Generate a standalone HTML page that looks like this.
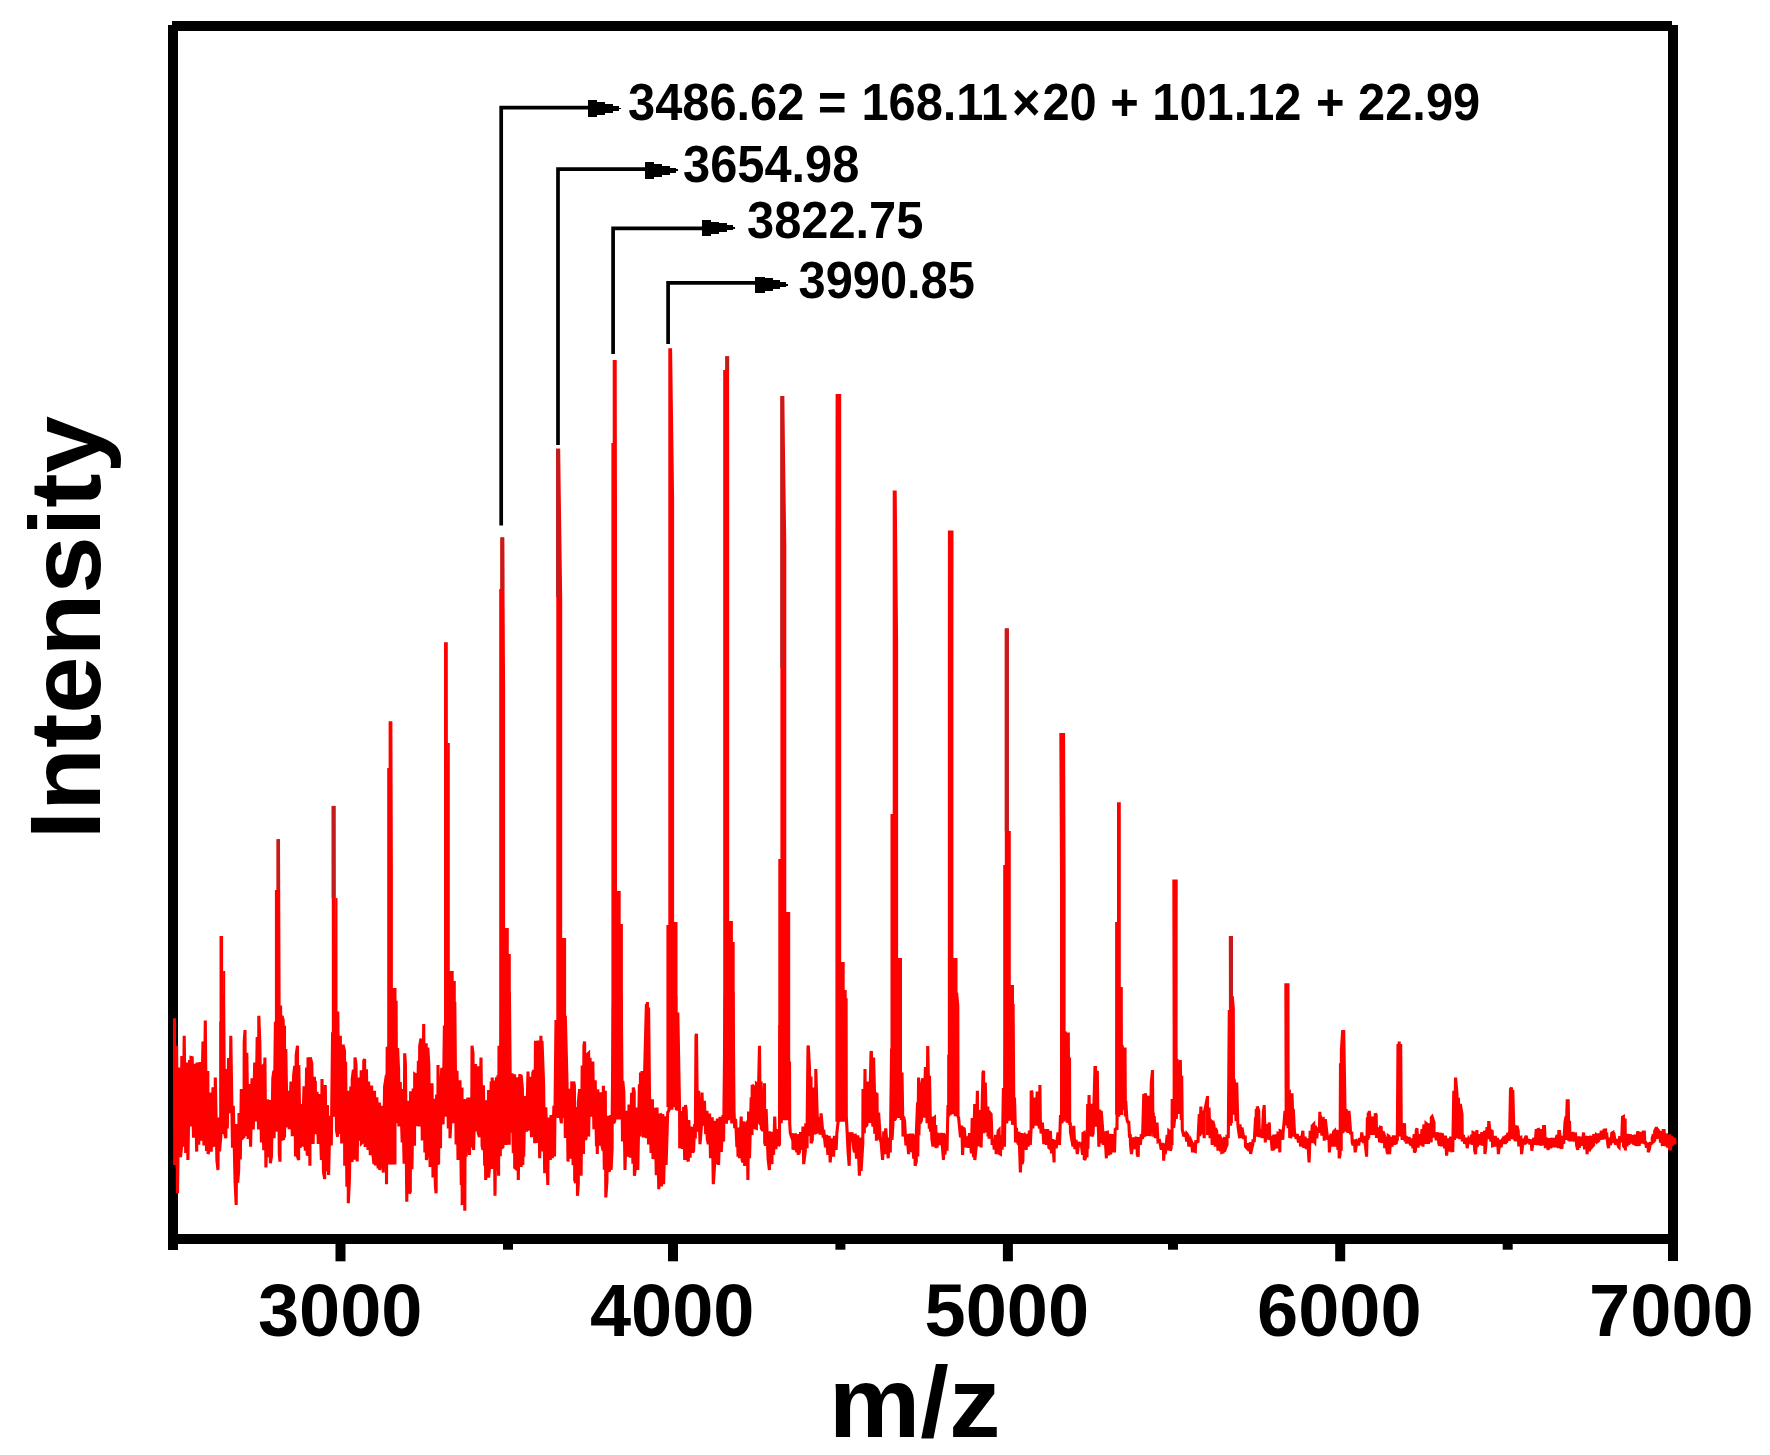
<!DOCTYPE html>
<html lang="en"><head><meta charset="utf-8"><title>Mass spectrum</title>
<style>html,body{margin:0;padding:0;background:#fff;}svg{display:block;}</style></head>
<body>
<svg width="1770" height="1455" viewBox="0 0 1770 1455">
<rect x="0" y="0" width="1770" height="1455" fill="#fff"/>
<g fill="#000" shape-rendering="crispEdges">
<rect x="172" y="21" width="1500" height="10"/>
<rect x="168" y="25" width="10" height="1225"/>
<rect x="1668" y="25" width="10" height="1236"/>
<rect x="168" y="1234" width="1510" height="10"/>
</g><g fill="#000">
<rect x="335.5" y="1240" width="10" height="21.3"/>
<rect x="503.0" y="1240" width="10" height="9.7"/>
<rect x="668.0" y="1240" width="10" height="21.3"/>
<rect x="835.4" y="1240" width="10" height="9.7"/>
<rect x="1002.9" y="1240" width="10" height="21.3"/>
<rect x="1168.0" y="1240" width="10" height="9.7"/>
<rect x="1335.2" y="1240" width="10" height="21.3"/>
<rect x="1502.7" y="1240" width="10" height="9.7"/>
</g>
<g fill="none" stroke="#000" stroke-width="3.7" stroke-linejoin="miter">
<path d="M501.2 525.5 V107.7 H595.9"/>
<path d="M558.0 445.0 V169.2 H652.6"/>
<path d="M613.1 354.0 V228.4 H709.6"/>
<path d="M668.1 344.0 V282.9 H763.1"/>
</g>
<g fill="#000" shape-rendering="crispEdges">
<rect x="587.9" y="100.3" width="9.5" height="16.6"/>
<rect x="597.4" y="102.1" width="8.0" height="12.8"/>
<rect x="605.4" y="104.0" width="7.5" height="9.0"/>
<rect x="612.9" y="106.0" width="6.0" height="5.0"/>
<rect x="618.9" y="107.7" width="2.0" height="1.7"/>
<rect x="644.6" y="161.9" width="9.5" height="16.6"/>
<rect x="654.1" y="163.7" width="8.0" height="12.8"/>
<rect x="662.1" y="165.6" width="7.5" height="9.0"/>
<rect x="669.6" y="167.6" width="6.0" height="5.0"/>
<rect x="675.6" y="169.3" width="2.0" height="1.7"/>
<rect x="701.6" y="219.7" width="9.5" height="16.6"/>
<rect x="711.1" y="221.5" width="8.0" height="12.8"/>
<rect x="719.1" y="223.4" width="7.5" height="9.0"/>
<rect x="726.6" y="225.4" width="6.0" height="5.0"/>
<rect x="732.6" y="227.1" width="2.0" height="1.7"/>
<rect x="755.1" y="276.6" width="9.5" height="16.6"/>
<rect x="764.6" y="278.4" width="8.0" height="12.8"/>
<rect x="772.6" y="280.3" width="7.5" height="9.0"/>
<rect x="780.1" y="282.3" width="6.0" height="5.0"/>
<rect x="786.1" y="284.0" width="2.0" height="1.7"/>
</g>
<g fill="#fe0000" stroke="none">
<polygon points="219.6,1133.9 219.6,1086.0 219.5,936.0 223.1,936.0 223.2,1086.0 223.2,971.0 225.2,971.0 225.2,1133.9"/>
<polygon points="274.9,1131.7 274.9,890.0 276.6,890.0 276.6,839.3 280.0,839.3 280.6,989.3 280.6,1131.7"/>
<polygon points="331.8,1116.3 331.8,955.9 331.7,805.9 335.5,805.9 335.8,955.9 335.8,898.0 337.5,898.0 337.5,1116.3"/>
<polygon points="387.2,1164.6 387.2,768.0 388.6,768.0 388.6,721.3 392.4,721.3 392.9,871.3 392.9,988.0 396.5,988.0 396.5,1164.6"/>
<polygon points="444.0,1114.6 444.0,792.2 444.0,642.2 447.8,642.2 447.9,792.2 447.9,743.0 449.8,743.0 449.8,971.0 453.7,971.0 453.7,981.0 455.8,981.0 455.8,1114.6"/>
<polygon points="499.2,1144.8 499.2,589.0 500.4,589.0 500.4,537.4 504.2,537.4 505.1,687.4 505.1,928.0 508.8,928.0 508.8,954.0 510.8,954.0 510.8,1144.8"/>
<polygon points="556.3,1117.9 556.3,598.7 556.1,448.7 560.1,448.7 562.2,598.7 562.2,938.0 566.1,938.0 566.1,1117.9"/>
<polygon points="611.4,1119.4 611.4,443.0 612.7,443.0 612.7,360.0 616.7,360.0 617.0,510.0 617.0,891.0 620.7,891.0 620.7,924.0 622.9,924.0 622.9,1119.4"/>
<polygon points="666.4,1107.0 666.4,925.0 668.3,925.0 668.3,348.2 672.1,348.2 674.1,498.2 674.1,922.0 677.5,922.0 677.5,1107.0"/>
<polygon points="723.2,1117.9 723.2,370.0 725.3,370.0 725.3,356.3 729.1,356.3 729.2,506.3 729.2,921.0 732.9,921.0 732.9,942.0 734.7,942.0 734.7,1117.9"/>
<polygon points="778.3,1120.3 778.3,859.0 780.4,859.0 780.4,396.0 784.2,396.0 786.3,546.0 786.3,912.0 790.2,912.0 790.2,1120.3"/>
<polygon points="835.4,1121.7 835.4,544.1 835.6,394.1 841.2,394.1 841.2,544.1 841.2,962.0 844.7,962.0 844.7,990.0 846.7,990.0 846.7,1121.7"/>
<polygon points="890.5,1118.1 890.5,814.0 892.7,814.0 892.7,490.6 896.7,490.6 898.1,640.6 898.1,958.0 902.0,958.0 902.0,1118.1"/>
<polygon points="947.8,1113.7 947.8,680.5 947.9,530.5 953.5,530.5 953.4,680.5 953.4,958.0 957.5,958.0 957.5,1113.7"/>
<polygon points="1003.2,1120.4 1003.2,865.0 1004.8,865.0 1004.8,628.4 1008.8,628.4 1008.8,778.4 1008.8,831.0 1010.8,831.0 1010.8,985.0 1014.0,985.0 1014.0,1120.4"/>
<polygon points="1060.0,1121.5 1060.0,883.1 1059.3,733.1 1065.1,733.1 1065.6,883.1 1065.6,1121.5"/>
<polygon points="1115.1,1114.5 1115.1,922.0 1117.0,922.0 1117.0,802.2 1120.8,802.2 1120.8,952.2 1120.8,987.0 1122.8,987.0 1122.8,1114.5"/>
<polygon points="1172.6,1117.0 1172.6,1029.4 1172.3,879.4 1177.7,879.4 1177.6,1029.4 1177.6,1117.0"/>
<polygon points="1229.2,1122.9 1229.2,1086.1 1228.9,936.1 1232.9,936.1 1232.9,1086.1 1232.9,1122.9"/>
<polygon points="1284.6,1125.4 1284.6,1095.4 1284.3,983.3 1289.5,983.3 1289.6,1095.4 1289.6,1125.4"/>
</g>
<g fill="#c11d1d">
<rect x="276.6" y="839.3" width="3.4" height="50.7"/>
<rect x="331.7" y="805.9" width="3.8" height="92.1"/>
<rect x="500.4" y="537.4" width="3.8" height="51.6"/>
<rect x="556.1" y="448.7" width="4.0" height="148.3"/>
<rect x="780.4" y="396.0" width="3.8" height="272.0"/>
<rect x="1004.8" y="628.4" width="4.0" height="202.6"/>
<rect x="1228.9" y="936.1" width="4.0" height="71.9"/>
<rect x="725.3" y="356.3" width="3.8" height="13.7"/>
</g>
<path d="M174.5 1018.3 L174.7 1165.0 L176.6 1045.7 L177.5 1193.3 L179.2 1067.6 L180.0 1072.5 L180.5 1157.2 L181.5 1146.6 L181.8 1055.9 L183.1 1146.7 L184.2 1035.8 L185.7 1153.1 L186.4 1062.5 L187.9 1160.0 L189.6 1060.0 L190.8 1126.6 L191.0 1057.5 L192.2 1057.8 L193.5 1137.6 L194.8 1063.8 L196.7 1151.6 L197.1 1062.5 L198.7 1144.7 L200.0 1061.9 L200.8 1140.8 L203.0 1041.6 L203.9 1145.4 L205.3 1020.5 L206.5 1151.1 L207.8 1071.1 L208.1 1154.1 L209.1 1148.8 L209.1 1097.5 L210.4 1092.7 L211.2 1151.6 L213.0 1087.2 L214.3 1145.2 L215.1 1145.0 L215.3 1077.5 L216.9 1160.5 L218.0 1170.0 L218.3 1117.5 L219.5 1151.4 L220.8 1136.7 L220.8 1021.5 L222.1 1133.9 L223.4 993.7 L224.7 1133.1 L225.8 1138.3 L226.7 1069.1 L227.3 1128.5 L228.6 1058.0 L230.0 1113.3 L230.8 1035.8 L232.5 1147.7 L233.3 1105.8 L235.1 1182.2 L236.2 1205.0 L236.7 1124.1 L237.7 1182.7 L238.7 1170.0 L239.0 1113.1 L240.3 1159.5 L241.3 1089.1 L242.9 1137.7 L244.0 1136.6 L244.2 1042.4 L245.0 1030.0 L245.5 1136.0 L246.8 1052.7 L248.1 1138.9 L249.1 1084.1 L250.6 1146.6 L252.0 1078.3 L253.3 1129.5 L254.7 1062.5 L255.0 1120.0 L255.9 1120.0 L257.2 1037.1 L258.5 1129.6 L258.8 1015.8 L259.8 1042.0 L261.4 1142.5 L261.6 1067.5 L262.4 1066.6 L263.7 1150.3 L264.9 1057.5 L265.9 1167.5 L267.6 1099.5 L268.3 1107.5 L268.9 1157.3 L270.2 1099.9 L270.3 1163.3 L271.5 1156.1 L272.8 1078.3 L273.9 1070.8 L274.1 1138.2 L275.4 1021.7 L276.7 1128.3 L278.0 992.5 L279.3 1154.2 L280.0 1161.7 L280.6 1005.5 L281.9 1140.8 L282.0 1015.8 L283.2 1020.1 L283.6 1140.0 L284.5 1025.8 L284.5 1137.5 L285.8 1049.0 L287.1 1127.5 L288.3 1090.8 L289.2 1129.1 L291.0 1081.6 L292.3 1136.2 L293.6 1075.6 L294.7 1065.8 L295.5 1156.6 L296.2 1055.1 L297.5 1045.8 L297.5 1156.4 L298.6 1160.0 L298.8 1065.0 L300.1 1147.9 L301.7 1104.1 L302.4 1146.6 L304.0 1086.4 L305.3 1150.7 L306.6 1067.6 L307.2 1154.1 L307.9 1154.4 L308.0 1057.5 L309.2 1061.1 L309.9 1165.8 L310.3 1057.5 L311.8 1063.5 L313.1 1143.9 L314.4 1076.7 L315.0 1133.3 L315.3 1080.8 L315.7 1134.2 L317.0 1091.9 L318.3 1143.9 L319.2 1094.1 L321.4 1160.0 L322.0 1079.1 L323.5 1172.2 L324.7 1179.1 L325.3 1085.0 L326.1 1171.2 L327.4 1105.1 L328.6 1175.0 L330.0 1115.8 L331.3 1145.5 L332.6 1032.2 L334.2 1116.7 L335.2 992.1 L336.5 1130.1 L337.6 1136.7 L337.8 1011.6 L339.1 1133.4 L340.1 1131.6 L340.3 1035.8 L341.7 1143.4 L343.0 1044.7 L344.5 1050.8 L344.7 1165.8 L345.6 1061.8 L346.9 1186.8 L348.3 1090.8 L348.3 1203.3 L349.5 1177.6 L350.8 1086.4 L351.3 1160.8 L352.1 1160.7 L352.2 1079.1 L353.4 1069.7 L354.7 1159.8 L355.0 1057.5 L356.0 1064.4 L357.2 1161.6 L358.3 1077.5 L359.9 1140.7 L361.2 1070.2 L361.4 1143.3 L362.5 1142.2 L363.8 1060.8 L364.6 1059.1 L365.1 1146.9 L366.4 1069.4 L368.0 1150.0 L368.6 1081.6 L370.3 1155.3 L371.6 1085.5 L372.9 1153.8 L373.9 1164.1 L374.5 1090.8 L375.5 1165.6 L376.8 1097.4 L378.1 1168.4 L379.4 1102.5 L379.7 1170.0 L380.7 1164.1 L381.8 1105.8 L383.3 1172.6 L384.6 1086.7 L386.4 1075.0 L386.5 1184.2 L387.2 1046.7 L388.5 1163.3 L389.8 998.1 L391.1 1164.2 L392.4 994.1 L393.7 1144.3 L395.0 1005.6 L396.1 1000.8 L396.6 1123.3 L397.6 1048.1 L398.6 1070.8 L398.9 1126.4 L400.2 1082.1 L402.2 1142.5 L402.5 1089.1 L404.1 1163.7 L404.7 1053.3 L405.4 1063.9 L406.8 1201.7 L408.3 1100.8 L409.3 1193.6 L410.3 1191.6 L410.6 1091.2 L411.9 1169.1 L413.2 1088.4 L414.5 1145.8 L414.7 1074.1 L415.8 1074.8 L417.1 1126.3 L418.4 1060.8 L419.2 1126.6 L419.7 1045.8 L421.0 1038.4 L422.3 1140.5 L423.7 1024.1 L424.9 1152.6 L426.2 1043.3 L426.4 1160.0 L427.5 1151.5 L427.8 1047.5 L428.8 1064.6 L430.1 1167.0 L432.0 1083.3 L433.0 1177.5 L434.0 1098.8 L435.0 1107.5 L435.3 1184.6 L436.1 1193.3 L436.6 1094.4 L437.9 1165.0 L438.0 1065.0 L438.6 1164.1 L439.2 1078.2 L440.5 1148.3 L440.8 1084.1 L441.8 1067.8 L443.1 1124.4 L444.4 1025.6 L445.0 1116.6 L445.7 1110.8 L447.0 1007.1 L448.3 1128.4 L449.6 994.8 L450.0 1138.3 L450.9 1119.0 L452.2 1000.6 L453.4 1123.3 L454.8 1002.1 L456.1 1144.6 L457.0 1070.8 L458.0 1160.0 L460.0 1080.3 L461.3 1185.1 L462.0 1087.5 L462.2 1203.3 L463.9 1202.4 L464.2 1099.1 L464.8 1210.8 L465.2 1099.5 L466.1 1156.6 L467.8 1097.5 L469.5 1155.0 L470.5 1097.5 L471.7 1147.5 L472.0 1045.8 L473.0 1053.4 L473.6 1150.0 L475.6 1064.1 L476.9 1131.4 L478.2 1066.2 L478.3 1133.3 L479.5 1137.0 L481.0 1057.5 L482.1 1145.9 L483.0 1150.0 L483.4 1085.2 L484.7 1165.7 L485.0 1104.1 L485.7 1180.0 L486.0 1100.2 L487.3 1176.9 L488.6 1090.1 L488.6 1177.5 L489.9 1163.0 L491.2 1081.6 L491.7 1163.3 L492.2 1077.5 L492.5 1169.0 L493.8 1080.4 L495.0 1195.8 L496.4 1077.3 L497.7 1170.3 L498.0 1075.0 L498.6 1175.8 L499.0 1045.8 L500.3 1156.3 L501.6 997.2 L502.0 1147.5 L502.9 1146.9 L504.2 995.6 L506.1 1145.0 L506.8 992.0 L508.1 1120.3 L509.2 1123.3 L509.4 992.5 L510.7 1132.8 L512.0 1073.3 L513.3 1153.3 L514.6 1074.2 L514.7 1167.5 L515.9 1168.5 L517.2 1077.3 L518.3 1180.0 L519.8 1074.1 L521.1 1167.1 L521.1 1075.0 L522.4 1088.5 L522.8 1165.0 L523.7 1102.5 L523.7 1156.4 L525.0 1096.0 L526.5 1131.6 L528.0 1071.6 L528.9 1130.6 L530.2 1076.9 L531.5 1137.1 L532.8 1072.7 L533.9 1070.0 L534.7 1143.3 L535.5 1040.8 L536.7 1143.0 L538.0 1040.5 L539.7 1158.3 L540.9 1035.8 L541.9 1151.6 L542.0 1040.8 L543.6 1084.1 L544.7 1173.3 L545.8 1107.3 L547.8 1185.0 L548.3 1117.5 L550.3 1160.0 L551.0 1115.1 L552.3 1158.3 L553.9 1105.8 L554.5 1156.6 L556.0 1020.0 L557.4 1116.7 L558.8 992.1 L560.1 1114.3 L561.4 1123.3 L561.4 1001.7 L562.7 1117.7 L564.0 992.4 L565.3 1137.9 L565.3 1015.8 L567.0 1081.6 L568.0 1161.6 L569.2 1088.7 L570.5 1158.6 L571.8 1081.4 L573.1 1165.3 L573.7 1081.6 L574.4 1085.9 L574.7 1180.0 L575.7 1183.0 L577.0 1107.1 L577.5 1195.8 L578.3 1183.9 L578.3 1102.5 L579.6 1089.1 L581.1 1175.8 L582.2 1065.4 L583.5 1154.1 L583.9 1045.8 L584.6 1041.6 L585.3 1140.0 L586.1 1138.1 L587.4 1054.5 L588.6 1053.3 L588.6 1136.6 L590.0 1057.9 L592.0 1116.6 L592.8 1061.6 L593.9 1129.2 L595.2 1080.3 L596.5 1146.3 L597.0 1090.8 L597.3 1154.1 L597.8 1089.4 L599.1 1145.6 L600.4 1092.2 L601.7 1144.2 L603.2 1150.8 L603.4 1085.8 L604.3 1169.7 L605.3 1090.8 L605.8 1197.5 L606.9 1181.6 L607.7 1115.8 L608.6 1170.8 L609.5 1170.4 L610.8 1115.1 L611.1 1170.0 L612.1 1148.4 L612.2 1114.1 L613.4 1003.0 L613.6 1123.3 L614.7 1121.2 L616.0 992.4 L617.3 1106.7 L618.6 996.9 L620.3 1116.7 L621.2 994.8 L622.5 1141.6 L622.8 1080.8 L623.8 1091.7 L625.0 1170.0 L626.6 1110.8 L628.3 1156.6 L629.0 1104.5 L630.3 1157.8 L631.6 1092.7 L632.9 1163.7 L633.3 1087.5 L634.2 1092.1 L634.4 1175.8 L635.5 1167.3 L636.7 1107.5 L637.8 1170.0 L639.4 1084.2 L640.0 1136.6 L640.5 1072.5 L640.7 1130.1 L642.0 1071.1 L643.3 1137.4 L644.7 1069.1 L646.4 1004.1 L646.4 1138.3 L647.4 1002.1 L648.5 1144.6 L648.6 1007.5 L649.5 1094.1 L651.1 1152.9 L652.4 1099.2 L653.0 1159.1 L655.0 1107.8 L656.3 1175.3 L657.0 1107.5 L658.8 1189.1 L660.2 1113.7 L661.1 1115.0 L661.5 1186.4 L662.8 1114.1 L663.6 1184.1 L665.4 1116.3 L666.1 1165.0 L667.7 1112.5 L669.0 1110.0 L670.6 1004.4 L671.9 1109.8 L673.2 1001.5 L674.5 1107.3 L675.8 995.5 L676.3 1110.0 L677.1 1109.0 L677.8 1012.5 L679.6 1110.8 L679.7 1148.3 L681.0 1111.1 L682.3 1149.0 L683.6 1106.8 L684.7 1160.0 L685.5 1105.0 L686.2 1110.7 L687.5 1158.9 L688.3 1161.6 L688.8 1120.0 L690.1 1157.6 L690.7 1128.3 L691.4 1126.8 L692.7 1152.7 L693.6 1150.8 L694.7 1124.1 L695.3 1138.6 L696.0 1035.8 L696.5 1033.8 L697.5 1131.6 L698.6 1090.8 L700.0 1144.1 L701.6 1123.3 L702.0 1092.5 L703.1 1125.6 L704.4 1100.9 L705.7 1134.1 L707.0 1110.8 L707.2 1138.3 L708.3 1144.1 L709.6 1113.5 L710.5 1158.3 L712.2 1117.2 L713.3 1184.1 L714.5 1166.6 L714.8 1120.8 L716.1 1164.3 L717.4 1118.5 L718.6 1165.0 L720.0 1116.8 L721.3 1152.0 L723.0 1115.0 L723.6 1141.6 L725.2 995.9 L726.5 1123.8 L727.8 992.6 L728.2 1120.0 L729.1 1117.2 L730.4 992.0 L731.7 1123.4 L733.0 992.1 L734.0 1110.0 L734.7 1128.2 L735.6 1118.9 L736.9 1147.1 L737.5 1130.8 L738.0 1156.6 L738.2 1127.6 L739.5 1158.1 L741.2 1116.6 L742.1 1159.9 L743.0 1162.5 L743.4 1121.2 L744.7 1165.9 L746.0 1123.9 L747.1 1122.5 L747.9 1180.0 L748.6 1111.5 L749.5 1158.3 L751.2 1097.3 L752.0 1135.0 L752.2 1085.0 L753.8 1087.0 L755.1 1127.9 L756.4 1128.3 L756.4 1083.5 L757.2 1084.1 L757.7 1123.8 L759.5 1045.8 L760.3 1125.2 L761.1 1081.6 L761.3 1128.3 L762.9 1130.8 L764.5 1083.3 L764.7 1142.5 L765.5 1145.6 L766.1 1109.1 L768.1 1158.9 L769.4 1170.0 L769.4 1131.3 L770.7 1164.5 L770.8 1137.5 L772.0 1164.1 L772.0 1131.7 L773.6 1154.9 L774.7 1116.6 L775.9 1149.1 L777.5 1129.1 L778.5 1146.0 L779.5 1144.1 L779.8 1025.0 L781.2 1123.3 L782.4 992.2 L783.7 1112.3 L785.0 996.9 L786.3 1117.1 L787.6 998.2 L788.9 1117.2 L789.5 1061.6 L789.7 1123.3 L790.3 1133.0 L791.5 1136.6 L792.8 1133.4 L793.0 1148.2 L794.1 1148.5 L795.4 1133.3 L796.7 1152.3 L798.0 1134.3 L798.2 1154.9 L799.2 1134.1 L799.3 1153.4 L800.6 1132.1 L801.9 1149.9 L803.0 1126.6 L803.7 1164.1 L804.5 1157.2 L805.3 1150.8 L805.8 1123.3 L807.1 1148.3 L807.2 1120.0 L808.0 1047.5 L808.3 1045.5 L809.5 1067.5 L809.7 1136.3 L811.0 1076.6 L811.1 1143.3 L812.3 1139.9 L813.3 1087.5 L814.9 1132.3 L815.7 1134.1 L815.8 1069.1 L817.3 1119.1 L817.5 1133.5 L818.8 1117.0 L820.1 1134.6 L821.1 1113.3 L822.8 1132.5 L823.0 1134.5 L824.0 1133.1 L825.5 1147.4 L826.6 1134.8 L827.9 1155.0 L829.2 1135.8 L830.2 1162.4 L832.0 1138.3 L833.6 1156.6 L834.4 1135.8 L836.1 1149.9 L836.9 1132.5 L838.7 1116.7 L839.6 995.3 L840.9 1116.4 L842.2 1004.0 L843.5 1116.1 L844.8 1006.3 L846.1 998.3 L846.3 1116.6 L847.0 1129.3 L848.0 1150.7 L849.2 1165.8 L850.0 1132.2 L850.8 1139.8 L852.0 1132.5 L853.9 1149.7 L854.7 1152.4 L855.2 1133.7 L856.5 1158.6 L857.8 1135.3 L859.4 1175.8 L860.5 1137.5 L861.1 1170.8 L862.8 1143.3 L863.0 1089.1 L864.3 1133.3 L865.0 1069.1 L865.3 1126.6 L866.9 1125.1 L867.5 1081.6 L869.5 1122.9 L871.0 1052.5 L871.4 1051.1 L872.1 1119.4 L873.0 1126.6 L873.6 1057.5 L874.5 1092.5 L874.7 1133.8 L876.0 1092.2 L876.4 1140.8 L877.0 1093.3 L877.3 1139.7 L878.6 1112.6 L880.5 1141.4 L880.7 1137.5 L882.6 1159.9 L883.8 1131.4 L884.8 1154.1 L885.7 1128.3 L888.2 1158.3 L889.2 1137.5 L890.3 1152.5 L891.6 1048.5 L892.0 1140.0 L892.9 1124.1 L894.2 1004.7 L894.5 1120.0 L895.5 1118.7 L896.8 994.1 L898.1 1117.6 L899.4 1007.3 L901.3 1120.0 L902.0 1072.5 L903.0 1136.6 L903.6 1116.6 L904.6 1121.1 L905.9 1145.5 L907.0 1134.1 L908.6 1154.1 L909.8 1133.6 L911.1 1149.7 L912.0 1150.7 L912.4 1133.6 L913.7 1158.7 L915.0 1134.4 L915.1 1165.8 L916.3 1161.6 L916.3 1134.1 L917.6 1102.2 L917.8 1156.6 L918.6 1077.5 L918.9 1135.1 L920.2 1083.5 L920.3 1123.3 L921.5 1120.0 L921.9 1082.5 L922.8 1078.4 L924.1 1117.8 L925.4 1067.1 L927.1 1123.3 L927.7 1047.5 L927.8 1047.5 L929.3 1128.7 L929.5 1075.8 L930.5 1131.6 L931.1 1116.6 L931.9 1139.3 L933.0 1146.6 L933.2 1118.5 L934.5 1117.5 L934.5 1145.9 L935.8 1124.9 L936.1 1148.2 L937.0 1132.5 L937.1 1147.4 L938.4 1133.5 L939.7 1145.2 L941.0 1132.8 L942.1 1143.2 L943.5 1159.9 L943.6 1133.1 L944.9 1154.7 L946.9 1134.1 L947.0 1150.7 L948.0 1105.0 L948.7 1116.6 L948.8 1054.8 L950.1 1115.3 L951.4 996.7 L952.7 1114.3 L954.0 992.4 L955.3 1116.3 L956.6 992.7 L957.8 1005.8 L958.0 1116.6 L958.6 1117.5 L960.5 1137.3 L961.8 1125.5 L962.6 1154.9 L963.6 1127.5 L964.4 1129.4 L965.7 1147.2 L966.7 1144.8 L967.0 1136.4 L968.3 1147.7 L968.4 1140.8 L969.6 1133.2 L971.4 1153.3 L972.2 1118.0 L973.5 1157.1 L974.7 1104.1 L974.8 1160.0 L976.1 1148.0 L977.4 1090.8 L977.8 1145.0 L978.7 1144.7 L980.0 1110.0 L981.1 1147.5 L983.0 1072.5 L983.6 1070.8 L983.9 1132.9 L985.0 1128.3 L985.3 1082.5 L986.5 1132.1 L987.8 1106.6 L988.0 1136.6 L988.6 1110.8 L989.1 1138.7 L990.4 1113.3 L991.1 1114.1 L992.2 1144.9 L993.1 1139.1 L994.3 1149.6 L995.6 1134.8 L996.2 1154.1 L998.2 1131.0 L999.1 1130.0 L999.5 1153.5 L1000.5 1154.1 L1000.8 1135.2 L1002.1 1149.7 L1002.6 1137.5 L1003.4 1088.0 L1004.5 1146.7 L1006.0 992.0 L1006.6 1123.3 L1007.3 1115.5 L1008.6 1004.7 L1009.9 1120.5 L1011.2 997.5 L1012.5 1124.7 L1013.1 1004.1 L1013.9 1125.0 L1014.5 1097.5 L1015.3 1125.8 L1015.5 1142.4 L1016.4 1127.8 L1017.7 1142.6 L1018.9 1144.9 L1019.0 1131.8 L1020.4 1172.5 L1021.6 1133.1 L1022.0 1164.1 L1022.9 1160.9 L1023.2 1135.8 L1024.2 1134.9 L1026.2 1149.9 L1026.8 1133.9 L1028.1 1146.5 L1029.4 1130.7 L1030.3 1144.9 L1031.1 1129.1 L1031.2 1090.8 L1032.0 1092.4 L1032.8 1128.3 L1035.1 1097.5 L1035.9 1125.8 L1037.2 1091.5 L1038.5 1124.2 L1039.6 1128.3 L1039.9 1085.0 L1040.3 1119.1 L1041.1 1133.5 L1042.4 1122.6 L1043.8 1144.1 L1045.3 1129.1 L1046.3 1144.8 L1047.6 1129.2 L1048.9 1147.7 L1049.7 1148.2 L1050.3 1130.8 L1051.5 1153.3 L1052.8 1139.1 L1054.1 1162.4 L1054.2 1144.1 L1055.4 1140.3 L1056.2 1148.2 L1058.0 1132.5 L1059.5 1144.9 L1060.5 1115.0 L1062.0 1123.3 L1063.2 1004.3 L1064.5 1119.8 L1065.3 1031.6 L1067.1 1122.6 L1068.3 1032.5 L1068.8 1123.3 L1069.5 1057.5 L1069.7 1124.8 L1070.3 1122.5 L1070.5 1132.3 L1072.3 1142.5 L1073.0 1146.6 L1073.7 1125.8 L1074.9 1149.1 L1075.3 1141.6 L1076.2 1141.4 L1077.3 1154.0 L1078.8 1142.0 L1080.0 1146.3 L1081.0 1142.5 L1082.7 1154.9 L1083.0 1133.3 L1084.0 1132.7 L1084.3 1159.9 L1085.3 1158.4 L1086.3 1132.5 L1087.0 1157.5 L1087.7 1104.1 L1087.9 1148.7 L1089.1 1095.0 L1089.4 1134.9 L1090.5 1133.9 L1090.8 1114.1 L1091.8 1103.7 L1092.0 1136.6 L1093.1 1133.5 L1095.0 1067.5 L1095.5 1067.5 L1095.9 1126.6 L1097.3 1070.8 L1097.8 1109.1 L1098.9 1146.6 L1099.6 1109.5 L1100.9 1143.4 L1101.2 1110.8 L1102.8 1130.8 L1103.3 1144.9 L1104.8 1131.6 L1106.4 1158.3 L1106.4 1132.5 L1107.4 1132.2 L1108.7 1155.3 L1110.0 1133.9 L1110.4 1154.1 L1111.3 1151.5 L1112.3 1134.1 L1114.5 1152.4 L1115.2 1129.4 L1116.3 1128.3 L1117.0 1130.0 L1117.8 992.3 L1118.7 1116.7 L1120.4 992.1 L1121.7 1115.0 L1122.0 1045.0 L1123.0 1052.0 L1124.3 1110.0 L1125.0 1047.5 L1125.4 1116.6 L1125.7 1100.8 L1126.9 1118.9 L1128.0 1123.1 L1128.7 1120.8 L1129.5 1135.9 L1130.3 1135.8 L1130.5 1144.8 L1131.5 1154.1 L1133.4 1137.3 L1134.2 1149.0 L1136.0 1138.1 L1136.8 1138.3 L1137.3 1154.6 L1138.2 1156.6 L1138.6 1137.1 L1140.3 1144.8 L1141.2 1135.7 L1142.2 1135.8 L1142.5 1139.2 L1143.8 1094.1 L1143.9 1135.8 L1145.1 1135.3 L1145.2 1093.3 L1146.4 1098.1 L1147.7 1136.0 L1148.7 1095.8 L1150.3 1136.1 L1151.3 1082.5 L1152.4 1071.6 L1152.5 1071.6 L1152.9 1132.8 L1153.3 1112.5 L1153.7 1136.6 L1154.2 1116.0 L1155.5 1138.2 L1157.0 1122.5 L1158.0 1141.5 L1159.5 1140.8 L1161.3 1149.8 L1162.0 1143.4 L1163.4 1145.8 L1163.7 1160.7 L1164.6 1143.3 L1165.3 1154.0 L1167.2 1134.9 L1168.5 1150.3 L1168.8 1130.8 L1169.8 1131.6 L1170.3 1150.7 L1171.1 1148.0 L1171.3 1130.8 L1172.0 1145.0 L1172.2 1099.1 L1173.7 1127.8 L1174.5 1120.0 L1175.0 1005.0 L1176.3 1119.1 L1177.0 1059.1 L1178.9 1114.0 L1180.3 1060.0 L1181.3 1120.0 L1181.7 1075.8 L1182.3 1129.7 L1183.8 1136.4 L1185.4 1131.9 L1186.7 1141.6 L1187.0 1134.1 L1188.0 1135.4 L1188.8 1146.5 L1190.6 1139.8 L1191.8 1142.5 L1192.5 1152.3 L1193.2 1142.5 L1194.5 1151.2 L1195.3 1151.5 L1195.8 1141.7 L1197.1 1141.8 L1198.0 1141.4 L1198.2 1135.3 L1199.3 1114.1 L1199.7 1136.3 L1200.9 1106.6 L1202.3 1134.5 L1203.6 1111.0 L1204.2 1138.3 L1204.3 1112.5 L1206.2 1103.2 L1207.4 1097.5 L1207.5 1097.5 L1207.5 1133.4 L1208.5 1133.3 L1209.0 1107.5 L1210.1 1138.2 L1210.3 1120.0 L1211.4 1121.4 L1212.2 1144.9 L1212.8 1120.8 L1214.0 1125.5 L1215.3 1146.6 L1215.3 1128.3 L1216.6 1130.7 L1218.0 1150.7 L1219.2 1134.7 L1220.5 1137.5 L1220.5 1151.6 L1221.8 1137.9 L1221.8 1152.4 L1223.1 1152.0 L1224.4 1136.9 L1224.5 1151.5 L1225.7 1147.5 L1227.0 1144.8 L1227.0 1136.9 L1228.0 1137.5 L1228.3 1137.9 L1229.3 1010.0 L1230.6 1125.8 L1232.2 996.2 L1233.3 1008.3 L1233.5 1114.7 L1234.0 1079.1 L1234.8 1083.8 L1236.1 1121.1 L1236.7 1082.5 L1237.8 1122.5 L1238.0 1126.3 L1239.7 1138.2 L1240.0 1124.4 L1241.3 1138.1 L1242.0 1127.5 L1243.8 1138.9 L1245.2 1135.6 L1245.5 1146.5 L1246.5 1147.7 L1247.9 1143.3 L1249.1 1151.3 L1250.4 1142.2 L1250.6 1154.0 L1251.7 1148.6 L1252.8 1144.6 L1253.0 1140.8 L1254.3 1140.8 L1255.6 1117.4 L1255.9 1136.6 L1256.3 1109.1 L1256.9 1136.6 L1257.3 1106.6 L1258.7 1110.8 L1259.5 1137.2 L1261.3 1129.1 L1262.2 1138.2 L1263.4 1111.9 L1264.1 1106.6 L1264.2 1106.6 L1265.3 1142.4 L1265.9 1124.1 L1267.3 1139.5 L1269.3 1122.5 L1269.8 1139.9 L1270.9 1135.8 L1272.3 1150.7 L1273.8 1134.6 L1275.1 1147.4 L1275.9 1146.5 L1276.4 1134.3 L1277.7 1148.4 L1278.0 1133.3 L1279.0 1133.7 L1279.8 1152.4 L1280.1 1130.8 L1281.6 1131.4 L1282.8 1139.8 L1283.1 1132.5 L1284.2 1120.6 L1285.0 1110.8 L1285.5 1120.8 L1286.7 1123.3 L1286.8 992.0 L1288.1 1128.2 L1288.7 1093.3 L1289.4 1092.6 L1289.7 1136.6 L1290.7 1136.8 L1292.0 1093.3 L1293.3 1136.7 L1293.3 1109.1 L1294.5 1132.5 L1296.3 1138.9 L1297.2 1134.1 L1298.5 1142.6 L1300.3 1135.8 L1300.5 1146.5 L1302.9 1130.8 L1303.7 1147.9 L1305.0 1136.7 L1306.3 1149.0 L1306.7 1141.6 L1307.6 1138.4 L1309.1 1162.4 L1310.2 1130.9 L1310.6 1141.5 L1311.5 1141.6 L1312.2 1125.8 L1313.8 1124.1 L1314.1 1141.5 L1314.8 1142.4 L1315.4 1125.6 L1316.7 1138.4 L1317.9 1127.5 L1319.3 1132.8 L1319.8 1113.3 L1319.9 1113.3 L1320.0 1131.6 L1320.6 1115.6 L1321.9 1135.6 L1322.1 1119.1 L1323.2 1118.7 L1324.3 1140.7 L1325.3 1119.1 L1327.7 1139.8 L1328.9 1135.8 L1329.4 1152.4 L1331.0 1133.6 L1332.2 1146.5 L1333.6 1131.8 L1334.6 1130.8 L1335.2 1146.6 L1336.2 1129.9 L1338.0 1149.9 L1338.8 1130.0 L1339.2 1158.3 L1340.1 1154.2 L1340.5 1063.3 L1341.2 1150.8 L1341.4 1050.0 L1342.7 1030.0 L1342.8 1133.3 L1343.7 1030.0 L1344.5 1077.5 L1345.3 1131.7 L1346.2 1109.1 L1347.9 1132.8 L1349.0 1110.8 L1350.3 1127.5 L1350.5 1133.0 L1351.8 1133.0 L1352.2 1142.3 L1353.1 1145.3 L1353.7 1140.8 L1354.4 1140.9 L1355.2 1152.3 L1357.0 1140.8 L1358.3 1141.6 L1358.7 1145.5 L1359.6 1137.9 L1360.9 1141.6 L1361.8 1132.5 L1362.6 1139.7 L1363.5 1142.7 L1364.4 1135.8 L1366.6 1156.6 L1367.4 1117.4 L1367.8 1139.9 L1368.3 1112.5 L1368.7 1138.1 L1369.3 1110.8 L1371.3 1134.9 L1371.5 1119.1 L1372.6 1116.8 L1373.4 1134.9 L1375.4 1113.3 L1376.2 1115.0 L1376.5 1137.9 L1377.8 1127.5 L1379.7 1142.4 L1380.4 1127.3 L1381.2 1127.5 L1381.7 1143.0 L1383.0 1131.3 L1384.5 1135.8 L1384.7 1148.2 L1385.6 1136.5 L1386.9 1150.4 L1387.8 1154.1 L1388.2 1135.8 L1389.2 1136.6 L1389.6 1154.1 L1390.8 1137.2 L1392.0 1146.5 L1393.4 1135.4 L1394.7 1144.9 L1396.0 1135.6 L1396.2 1144.0 L1397.2 1135.0 L1397.3 1140.8 L1398.0 1044.1 L1399.1 1136.6 L1399.2 1041.6 L1399.9 1133.1 L1400.7 1044.1 L1401.2 1120.8 L1402.2 1139.9 L1404.5 1123.3 L1405.1 1141.6 L1406.2 1135.8 L1406.3 1142.3 L1407.7 1142.3 L1409.0 1137.0 L1410.3 1144.2 L1411.3 1144.8 L1412.2 1138.3 L1412.9 1148.4 L1414.2 1134.2 L1414.4 1152.4 L1415.5 1150.5 L1416.3 1130.0 L1417.0 1128.3 L1418.0 1147.4 L1420.1 1134.1 L1420.7 1145.5 L1422.0 1129.2 L1423.0 1146.6 L1423.8 1125.8 L1424.6 1125.6 L1425.9 1143.8 L1426.0 1123.3 L1427.2 1124.3 L1427.4 1142.4 L1428.5 1142.4 L1429.6 1123.3 L1431.2 1142.4 L1431.3 1117.5 L1432.1 1116.6 L1434.0 1122.5 L1434.1 1137.4 L1435.3 1132.5 L1436.3 1140.2 L1437.6 1132.3 L1438.9 1143.9 L1439.7 1145.7 L1440.2 1132.7 L1441.5 1146.3 L1442.2 1133.3 L1444.7 1148.2 L1445.4 1135.7 L1446.6 1155.7 L1448.2 1138.3 L1448.7 1151.5 L1450.6 1136.7 L1451.9 1150.8 L1452.8 1150.7 L1453.0 1135.8 L1453.8 1090.8 L1454.5 1140.0 L1455.5 1079.1 L1455.7 1079.1 L1457.0 1094.1 L1457.1 1138.5 L1458.4 1097.7 L1459.9 1139.1 L1460.3 1104.1 L1462.0 1114.1 L1462.3 1141.6 L1462.8 1135.8 L1463.6 1136.0 L1464.7 1143.9 L1466.2 1137.7 L1467.2 1148.2 L1468.7 1139.1 L1470.1 1141.5 L1470.9 1139.6 L1471.4 1134.6 L1472.7 1144.8 L1473.0 1132.5 L1474.0 1133.0 L1474.7 1150.7 L1475.6 1154.1 L1476.9 1130.0 L1477.0 1146.6 L1477.9 1144.5 L1479.8 1134.1 L1480.5 1145.0 L1481.8 1132.2 L1482.6 1145.7 L1484.7 1130.8 L1484.9 1154.1 L1485.7 1148.1 L1487.0 1127.2 L1488.2 1139.1 L1488.7 1122.5 L1489.0 1122.5 L1490.9 1141.7 L1491.2 1130.8 L1492.2 1131.4 L1492.6 1145.7 L1493.5 1145.3 L1495.3 1135.8 L1496.1 1144.9 L1496.9 1144.8 L1497.4 1137.8 L1498.4 1154.1 L1500.0 1139.5 L1500.3 1146.4 L1501.3 1145.9 L1501.9 1140.8 L1502.6 1139.5 L1503.9 1143.9 L1505.2 1135.9 L1505.3 1144.0 L1506.3 1135.0 L1506.5 1142.9 L1507.8 1132.8 L1509.1 1140.8 L1509.7 1130.8 L1510.5 1089.1 L1511.5 1087.5 L1511.5 1139.1 L1512.8 1090.0 L1513.7 1124.1 L1514.3 1138.5 L1515.5 1140.7 L1515.6 1125.3 L1516.9 1141.4 L1517.0 1125.8 L1518.2 1130.9 L1518.8 1146.5 L1519.5 1137.5 L1520.8 1137.2 L1521.6 1154.1 L1523.4 1138.6 L1524.5 1144.7 L1524.8 1139.1 L1526.2 1135.8 L1527.3 1141.5 L1528.5 1140.2 L1528.7 1139.1 L1529.9 1144.3 L1531.2 1139.5 L1531.8 1150.7 L1533.1 1140.8 L1533.8 1138.0 L1535.0 1144.8 L1536.3 1129.1 L1537.7 1145.1 L1538.2 1128.3 L1539.0 1129.9 L1541.0 1145.7 L1541.5 1129.1 L1542.9 1145.4 L1543.6 1126.6 L1544.5 1126.6 L1545.4 1148.2 L1546.2 1137.5 L1548.2 1149.9 L1549.4 1138.1 L1550.7 1148.4 L1552.0 1137.8 L1553.0 1147.3 L1554.6 1138.0 L1555.9 1147.2 L1556.1 1138.3 L1557.2 1135.1 L1558.3 1148.2 L1558.8 1131.6 L1559.6 1131.6 L1561.1 1147.5 L1562.0 1147.4 L1562.6 1135.8 L1563.7 1143.9 L1565.0 1122.2 L1566.0 1116.6 L1566.0 1139.9 L1567.2 1100.8 L1568.2 1100.8 L1568.9 1140.9 L1569.5 1120.8 L1570.1 1141.5 L1570.3 1132.5 L1571.5 1141.0 L1572.8 1131.9 L1574.1 1140.0 L1574.9 1139.8 L1575.4 1132.5 L1576.7 1145.8 L1577.8 1149.9 L1578.0 1136.6 L1579.0 1139.1 L1579.3 1147.9 L1580.6 1136.7 L1581.9 1145.7 L1583.6 1132.5 L1584.5 1149.4 L1586.2 1135.8 L1587.1 1154.1 L1588.4 1136.2 L1589.5 1151.5 L1590.2 1137.5 L1591.0 1136.1 L1592.3 1146.4 L1593.7 1144.8 L1593.7 1134.1 L1594.9 1143.1 L1596.2 1134.9 L1597.2 1135.8 L1597.5 1141.5 L1598.7 1140.6 L1598.8 1133.3 L1600.1 1139.9 L1601.3 1130.8 L1602.7 1139.6 L1604.0 1130.1 L1605.6 1130.0 L1605.8 1139.0 L1606.6 1132.6 L1607.9 1145.0 L1608.6 1148.2 L1609.1 1137.5 L1610.5 1145.1 L1611.8 1133.2 L1612.9 1132.5 L1613.2 1143.2 L1613.7 1132.5 L1615.7 1144.8 L1616.8 1139.1 L1618.3 1146.1 L1619.0 1147.3 L1619.1 1147.4 L1619.6 1137.7 L1621.5 1137.8 L1621.6 1142.5 L1622.5 1117.1 L1623.4 1116.6 L1623.5 1145.9 L1624.4 1147.5 L1625.1 1118.5 L1625.4 1150.4 L1625.5 1133.9 L1627.0 1146.5 L1627.4 1133.9 L1628.7 1144.8 L1630.6 1134.4 L1631.6 1143.5 L1632.6 1135.2 L1633.9 1144.7 L1634.4 1136.8 L1635.2 1134.8 L1635.9 1146.0 L1637.8 1131.1 L1639.2 1146.0 L1640.1 1132.0 L1641.7 1143.6 L1643.4 1130.6 L1644.3 1143.6 L1644.3 1130.6 L1644.8 1142.6 L1645.6 1142.6 L1646.5 1147.8 L1648.2 1142.6 L1648.3 1152.2 L1648.6 1151.2 L1649.5 1148.6 L1650.4 1143.6 L1651.0 1143.7 L1652.1 1143.1 L1652.3 1137.8 L1653.4 1134.3 L1653.5 1142.1 L1654.7 1140.1 L1654.7 1131.1 L1656.0 1128.2 L1656.5 1128.2 L1656.7 1138.8 L1658.6 1130.7 L1659.6 1132.0 L1660.5 1142.6 L1661.2 1131.2 L1662.4 1146.0 L1663.2 1130.6 L1664.1 1130.6 L1665.1 1145.9 L1665.5 1133.9 L1666.0 1146.5 L1666.4 1133.5 L1667.7 1147.5 L1669.0 1135.4 L1669.7 1150.4 L1669.7 1134.4 L1670.4 1150.4 L1671.6 1136.2 L1672.2 1145.5 L1674.7 1137.8 L1674.9 1144.5" fill="none" stroke="#fe0000" stroke-width="3.1" stroke-linejoin="miter" stroke-miterlimit="3"/>
<g font-family="'Liberation Sans', Arial, Helvetica, sans-serif" font-weight="bold" fill="#000">
<g font-size="74" text-anchor="middle">
<text x="340.2" y="1335.8">3000</text>
<text x="672.2" y="1335.8">4000</text>
<text x="1006.8" y="1335.8">5000</text>
<text x="1339.3" y="1335.8">6000</text>
<text x="1671.4" y="1335.8">7000</text>
</g>
<text transform="translate(914.6 1436.8) scale(1.03 1)" font-size="100" text-anchor="middle">m/z</text>
<text transform="translate(100.2 627.8) rotate(-90) scale(1.03 1)" font-size="100" text-anchor="middle">Intensity</text>
<g font-size="48.8">
<text transform="translate(628.0 119.8) scale(1 1.07)">3486.62 = <tspan dx="1.5">168.11</tspan><tspan dx="4">×</tspan><tspan dx="2">20 + 101.12 </tspan><tspan dx="1">+ 22.99</tspan></text>
<text transform="translate(683.0 182.2) scale(1 1.07)">3654.98</text>
<text transform="translate(747.0 238.2) scale(1 1.07)">3822.75</text>
<text transform="translate(798.5 298.2) scale(1 1.07)">3990.85</text>
</g>
</g>
</svg>
</body></html>
